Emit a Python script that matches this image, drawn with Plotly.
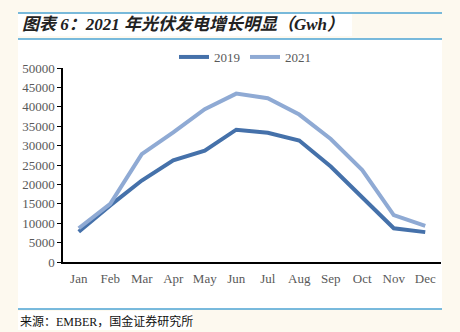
import plotly.graph_objects as go

months = ["Jan", "Feb", "Mar", "Apr", "May", "Jun", "Jul", "Aug", "Sep", "Oct", "Nov", "Dec"]
y2019 = [7800, 14600, 21000, 26200, 28700, 34100, 33300, 31300, 24600, 16800, 8700, 7700]
y2021 = [8700, 15000, 27800, 33400, 39400, 43400, 42200, 38000, 31700, 23700, 12100, 9300]
yticks = [0, 5000, 10000, 15000, 20000, 25000, 30000, 35000, 40000, 45000, 50000]

W, H = 460, 332
L, R, T, B = 63, 441, 68, 262

def px(x):
    return (x - L) / (R - L)

def py(y):
    return (B - y) / (B - T)

fig = go.Figure()
fig.add_trace(go.Scatter(x=months, y=y2019, mode="lines", name="2019",
                         line=dict(color="#4571AA", width=4)))
fig.add_trace(go.Scatter(x=months, y=y2021, mode="lines", name="2021",
                         line=dict(color="#8FAAD4", width=4)))

shapes = [
    dict(type="rect", xref="paper", yref="paper", x0=px(18), x1=px(442), y0=py(309), y1=py(39),
         fillcolor="white", line=dict(width=0), layer="below"),
    dict(type="rect", xref="paper", yref="paper", x0=px(18), x1=px(352), y0=py(36), y1=py(14),
         fillcolor="white", line=dict(width=0), layer="below"),
    dict(type="rect", xref="paper", yref="paper", x0=px(18), x1=px(192), y0=py(330), y1=py(311),
         fillcolor="white", line=dict(width=0), layer="below"),
    dict(type="line", xref="paper", yref="paper", x0=px(18), x1=px(442), y0=py(13), y1=py(13),
         line=dict(color="#4BA3D3", width=1.5)),
    dict(type="line", xref="paper", yref="paper", x0=px(18), x1=px(442), y0=py(39), y1=py(39),
         line=dict(color="#4BA3D3", width=1.5)),
    dict(type="line", xref="paper", yref="paper", x0=px(18), x1=px(442), y0=py(309), y1=py(309),
         line=dict(color="#4BA3D3", width=1.5)),
]

annotations = [
    dict(text="<b><i>图表 6：2021 年光伏发电增长明显（Gwh）</i></b>", xref="paper", yref="paper",
         x=px(20), y=py(25), xanchor="left", yanchor="middle", showarrow=False,
         font=dict(family="Liberation Serif, Noto Sans CJK SC", size=17, color="#222222")),
    dict(text="来源：EMBER，国金证券研究所", xref="paper", yref="paper",
         x=px(18), y=py(321), xanchor="left", yanchor="middle", showarrow=False,
         font=dict(family="Liberation Serif, Noto Sans CJK SC", size=12, color="#111111")),
]

fig.update_layout(
    width=W, height=H,
    margin=dict(l=L, r=W - R, t=T, b=H - B, pad=0),
    paper_bgcolor="#FDF9EF",
    plot_bgcolor="white",
    font=dict(family="Liberation Serif", size=13, color="#595959"),
    showlegend=True,
    legend=dict(orientation="h", x=px(245), xanchor="center", y=py(57), yanchor="middle",
                font=dict(family="Liberation Serif", size=13, color="#595959"),
                bgcolor="rgba(0,0,0,0)", itemwidth=30, tracegroupgap=0),
    shapes=shapes,
    annotations=annotations,
    xaxis=dict(type="category", showline=True, linecolor="black", linewidth=1.5,
               ticks="outside", ticklen=4, tickcolor="rgba(0,0,0,0)", showgrid=False,
               tickfont=dict(size=13, color="#595959"),
               range=[-0.5, 11.5], fixedrange=True),
    yaxis=dict(range=[0, 50000], tickvals=yticks, ticktext=[str(v) for v in yticks],
               showline=True, linecolor="black", linewidth=1.5, ticks="outside", ticklen=4,
               tickcolor="black", showgrid=False, zeroline=False,
               tickfont=dict(size=13, color="#595959")),
)

fig.write_html("out.html")
